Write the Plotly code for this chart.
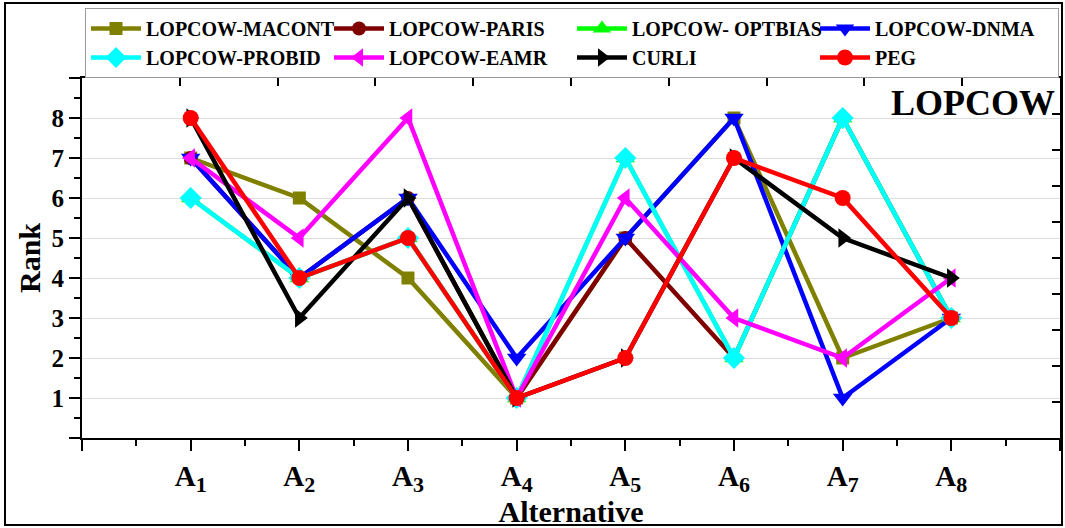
import plotly.graph_objects as go

alternatives = ["A<sub>1</sub>", "A<sub>2</sub>", "A<sub>3</sub>", "A<sub>4</sub>",
                "A<sub>5</sub>", "A<sub>6</sub>", "A<sub>7</sub>", "A<sub>8</sub>"]
x_pos = [1, 2, 3, 4, 5, 6, 7, 8]

macont  = [7, 6, 4, 1, 5, 8, 2, 3]
paris   = [7, 4, 6, 1, 5, 2, 8, 3]
optbias = [6, 4, 5, 1, 7, 2, 8, 3]
dnma    = [7, 4, 6, 2, 5, 8, 1, 3]
probid  = [6, 4, 5, 1, 7, 2, 8, 3]
eamr    = [7, 5, 8, 1, 6, 3, 2, 4]
curli   = [8, 3, 6, 1, 2, 7, 5, 4]
peg     = [8, 4, 5, 1, 2, 7, 6, 3]

series = [
    ("LOPCOW-MACONT", macont, "#808000", "square", 13),
    ("LOPCOW-PARIS", paris, "#800000", "circle", 14),
    ("LOPCOW- OPTBIAS", optbias, "#00ff00", "triangle-up", 17),
    ("LOPCOW-DNMA", dnma, "#0000ff", "triangle-down", 17),
    ("LOPCOW-PROBID", probid, "#00ffff", "diamond", 17),
    ("LOPCOW-EAMR", eamr, "#ff00ff", "triangle-left", 17),
    ("CURLI", curli, "#000000", "triangle-right", 17),
    ("PEG", peg, "#ff0000", "circle", 16),
]

FONT = "Liberation Serif"

fig = go.Figure()
for name, vals, color, sym, size in series:
    fig.add_trace(go.Scatter(
        x=x_pos, y=vals, name=name, mode="lines+markers",
        line=dict(color=color, width=4.5),
        marker=dict(symbol=sym, size=size, color=color),
    ))

# helper trace for the mirror (top/right) axes
fig.add_trace(go.Scatter(x=[], y=[], xaxis="x2", yaxis="y2", showlegend=False, hoverinfo="skip"))

W, H = 1065, 528
L, R, T, B = 82, 1060, 78, 438
pw, ph = R - L, B - T

tick_text = [a.replace("<sub>", "<sub><span style='font-size:22px'>").replace("</sub>", "</span></sub>")
             for a in alternatives]

fig.update_layout(
    width=W, height=H,
    margin=dict(l=L, r=W - R, t=T, b=H - B, autoexpand=False),
    plot_bgcolor="white", paper_bgcolor="white",
    font=dict(family=FONT, color="black"),
    xaxis=dict(
        range=[0, 9], tickvals=list(range(0, 10)),
        ticktext=[""] + tick_text + [""],
        ticks="outside", ticklen=11, tickwidth=2, tickcolor="black",
        minor=dict(dtick=0.5, ticks="outside", ticklen=6, tickwidth=2, tickcolor="black"),
        showline=True, linecolor="black", linewidth=2, showgrid=False, zeroline=False,
        tickfont=dict(family=FONT, size=29, weight="bold"),
        title=dict(text="Alternative", font=dict(family=FONT, size=30, weight="bold"), standoff=0),
    ),
    yaxis=dict(
        range=[0, 9], tickvals=list(range(0, 10)),
        ticktext=[""] + [str(i) for i in range(1, 9)] + [""],
        ticks="outside", ticklen=11, tickwidth=2, tickcolor="black",
        minor=dict(dtick=0.5, ticks="outside", ticklen=6, tickwidth=2, tickcolor="black"),
        showline=True, linecolor="black", linewidth=2,
        showgrid=True, gridcolor="#dddddd", gridwidth=1, zeroline=False,
        tickfont=dict(family=FONT, size=25, weight="bold"),
        title=dict(text="Rank", font=dict(family=FONT, size=30, weight="bold"), standoff=2),
    ),
    xaxis2=dict(
        overlaying="x", side="top", anchor="y", range=[0, 10], dtick=1,
        ticks="inside", ticklen=8, tickwidth=2, tickcolor="black",
        showticklabels=False, showline=True, linecolor="black", linewidth=2,
        showgrid=False, zeroline=False,
    ),
    yaxis2=dict(
        overlaying="y", side="right", anchor="x", range=[0, 10], dtick=1,
        ticks="inside", ticklen=8, tickwidth=2, tickcolor="black",
        showticklabels=False, showline=True, linecolor="black", linewidth=2,
        showgrid=False, zeroline=False,
    ),
    legend=dict(
        orientation="h", xref="container", yref="container",
        x=85 / W, y=1 - 8 / H, xanchor="left", yanchor="top",
        entrywidth=178, itemwidth=50,
        bordercolor="#9a9a9a", borderwidth=1, bgcolor="white",
        font=dict(family=FONT, size=20, weight="bold"),
        tracegroupgap=0, traceorder="normal",
    ),
    showlegend=True,
)

fig.add_annotation(
    text="LOPCOW", xref="paper", yref="paper",
    x=(1057 - L) / pw, y=(B - 103) / ph, xanchor="right", yanchor="middle",
    showarrow=False, font=dict(family=FONT, size=36, weight="bold", color="black"),
)

# outer frame around the whole picture
fig.add_shape(
    type="rect", xref="paper", yref="paper",
    x0=(5 - L) / pw, x1=(1062 - L) / pw, y0=(B - 525) / ph, y1=(B - 3) / ph,
    line=dict(color="black", width=2), fillcolor="rgba(0,0,0,0)", layer="above",
)

fig.write_html("out.html")
